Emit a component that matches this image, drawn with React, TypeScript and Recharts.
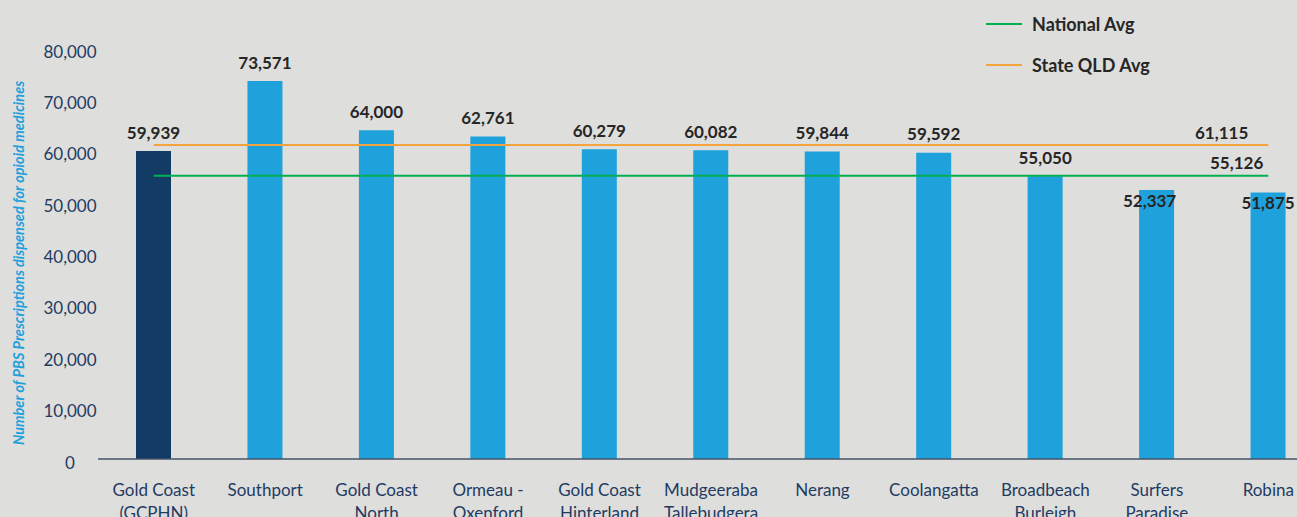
import React from 'react';
import {
  ComposedChart,
  Bar,
  Line,
  XAxis,
  YAxis,
  Cell,
  LabelList,
  Legend,
} from 'recharts';

const regions = [
  'Gold Coast\n(GCPHN)',
  'Southport',
  'Gold Coast\nNorth',
  'Ormeau -\nOxenford',
  'Gold Coast\nHinterland',
  'Mudgeeraba\nTallebudgera',
  'Nerang',
  'Coolangatta',
  'Broadbeach\nBurleigh',
  'Surfers\nParadise',
  'Robina',
];

const prescriptions = [
  59939, 73571, 64000, 62761, 60279, 60082, 59844, 59592, 55050, 52337, 51875,
];

const nationalAvg = 55126;
const stateAvg = 61115;

const yTicks = [0, 10000, 20000, 30000, 40000, 50000, 60000, 70000, 80000];

const data = regions.map((region, i) => ({
  region,
  value: prescriptions[i],
  national: nationalAvg,
  state: stateAvg,
}));

const NAVY = '#123c66';
const BLUE = '#1fa1dc';
const GREEN = '#00b050';
const ORANGE = '#f5a33c';
const TEXT = '#262626';
const AXIS_TEXT = '#1f3b63';
const FONT = 'Lato, "Open Sans", sans-serif';

const fmt = (v: number) => v.toLocaleString('en-US');

function XTick(props: any) {
  const { x, payload } = props;
  const lines = String(payload.value).split('\n');
  return (
    <g>
      {lines.map((line: string, i: number) => (
        <text
          key={i}
          x={x}
          y={489 + i * 23}
          textAnchor="middle"
          dominantBaseline="central"
          fill={AXIS_TEXT}
          fontSize={17}
          fontFamily={FONT}
        >
          {line}
        </text>
      ))}
    </g>
  );
}

function YTick(props: any) {
  const { y, payload } = props;
  return (
    <text
      x={70}
      y={y + 3}
      textAnchor="middle"
      dominantBaseline="central"
      fill={AXIS_TEXT}
      fontSize={17}
      fontFamily={FONT}
    >
      {fmt(payload.value)}
    </text>
  );
}

// the two shortest bars have their labels pushed down onto the bar
function BarValue(props: any) {
  const { x, y, width, value, index } = props;
  const dy = index >= 9 ? 10 : -19;
  const dx = index === 9 ? -7 : 0;
  return (
    <text
      x={x + width / 2 + dx}
      y={y + dy}
      textAnchor="middle"
      dominantBaseline="central"
      fill={TEXT}
      fontSize={17}
      fontWeight="bold"
      fontFamily={FONT}
    >
      {fmt(value)}
    </text>
  );
}

function lineLabel(shift: number) {
  return (props: any) => {
    const { x, y, value, index } = props;
    if (index !== regions.length - 1) return null;
    return (
      <text
        x={x - shift}
        y={y - 13}
        textAnchor="end"
        dominantBaseline="central"
        fill={TEXT}
        fontSize={17}
        fontWeight="bold"
        fontFamily={FONT}
      >
        {fmt(value)}
      </text>
    );
  };
}

function LegendBox() {
  const items = [
    { name: 'National Avg', color: GREEN },
    { name: 'State QLD Avg', color: ORANGE },
  ];
  return (
    <div style={{ fontFamily: FONT }}>
      {items.map((it) => (
        <div
          key={it.name}
          style={{ display: 'flex', alignItems: 'center', height: 41 }}
        >
          <span
            style={{
              display: 'inline-block',
              width: 36,
              height: 2,
              background: it.color,
              marginRight: 10,
            }}
          />
          <span style={{ fontSize: 18, fontWeight: 'bold', color: TEXT }}>
            {it.name}
          </span>
        </div>
      ))}
    </div>
  );
}

export default function App() {
  return (
    <div
      style={{
        position: 'absolute',
        left: 0,
        top: 0,
        width: 1297,
        height: 517,
        overflow: 'hidden',
        background: '#dededc',
      }}
    >
      <ComposedChart
        width={1330}
        height={517}
        data={data}
        margin={{ top: 48, right: 6, bottom: 0, left: 0 }}
        barCategoryGap={0}
      >
        <XAxis
          dataKey="region"
          interval={0}
          height={58}
          tickLine={false}
          axisLine={{ stroke: '#44546a', strokeWidth: 1.5 }}
          tick={<XTick />}
        />
        <YAxis
          width={98}
          domain={[0, 80000]}
          ticks={yTicks}
          axisLine={false}
          tickLine={false}
          tick={<YTick />}
          label={{
            content: () => (
              <text
                transform="translate(18,263) rotate(-90)"
                textAnchor="middle"
                dominantBaseline="central"
                fill={BLUE}
                fontSize={14.5}
                fontStyle="italic"
                fontWeight="bold"
                fontFamily={FONT}
              >
                Number of PBS Prescriptions dispensed for opioid medicines
              </text>
            ),
          }}
        />
        <Legend
          layout="horizontal"
          verticalAlign="middle"
          align="center"
          content={<LegendBox />}
          wrapperStyle={{ position: 'absolute', left: 986, top: 3, width: 260 }}
        />
        <Bar dataKey="value" barSize={35} isAnimationActive={false} legendType="none">
          {data.map((_, i) => (
            <Cell key={i} fill={i === 0 ? NAVY : BLUE} />
          ))}
          <LabelList dataKey="value" content={<BarValue />} />
        </Bar>
        <Line
          dataKey="state"
          name="State QLD Avg"
          stroke={ORANGE}
          strokeWidth={2}
          dot={false}
          activeDot={false}
          isAnimationActive={false}
          label={lineLabel(20)}
        />
        <Line
          dataKey="national"
          name="National Avg"
          stroke={GREEN}
          strokeWidth={2}
          dot={false}
          activeDot={false}
          isAnimationActive={false}
          label={lineLabel(5)}
        />
      </ComposedChart>
    </div>
  );
}
